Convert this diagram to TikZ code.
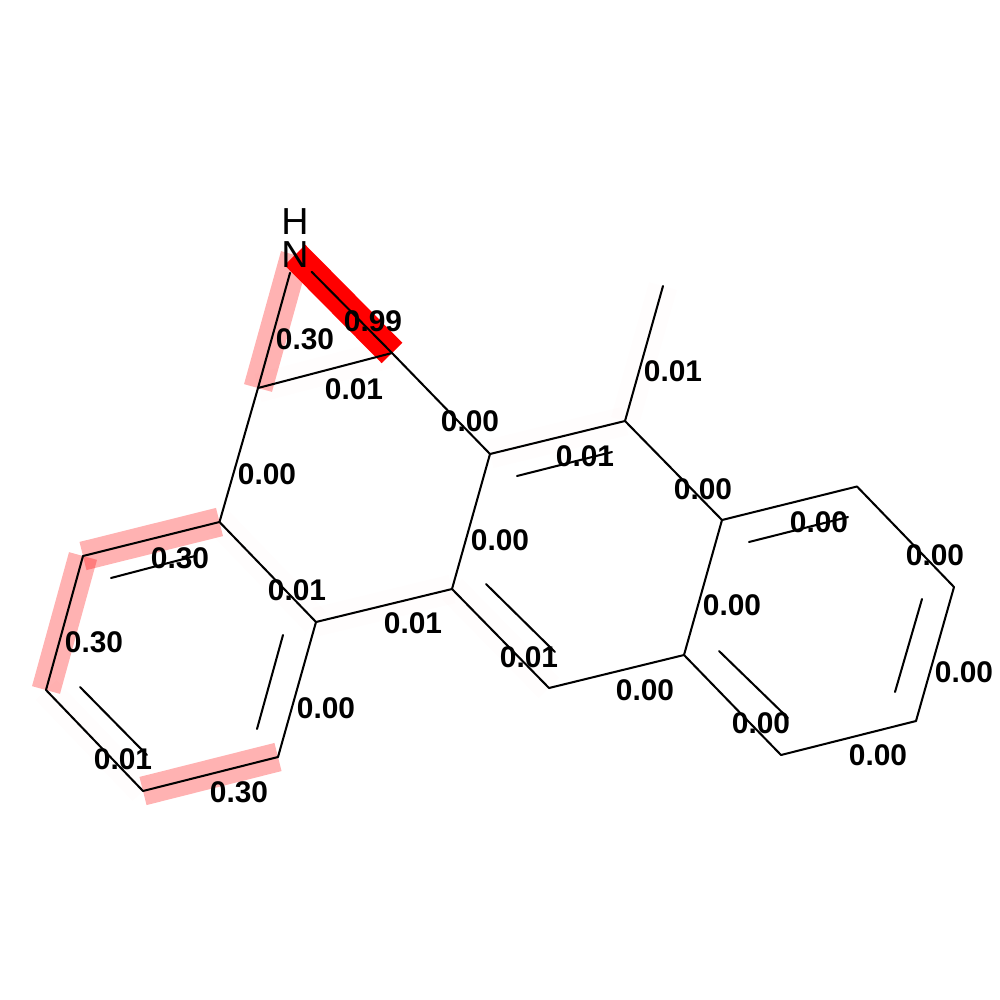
\documentclass[tikz,border=0pt]{standalone}
\usepackage{fontspec}
\setmainfont{Liberation Sans}
\tikzset{
  bond/.style={draw=black,line width=0.58pt,line cap=round},
  hl/.style={draw=red,line width=8.25pt,line cap=butt},
  hlA/.style={hl,draw opacity=1},
  hlB/.style={hl,draw opacity=0.3},
  hlC/.style={hl,draw opacity=0.008},
  val/.style={font=\fontsize{8.5}{10}\selectfont\bfseries,inner sep=0pt,text=black},
  atomlab/.style={font=\fontsize{10.7}{12}\selectfont,inner sep=0pt,text=black},
}
\begin{document}
\begin{tikzpicture}[x=0.01cm,y=-0.01cm]
\useasboundingbox (0,0) rectangle (1000,1000);
\fill[white] (0,0) rectangle (1000,1000);
% atoms
\coordinate (Nc) at (295,255);
\coordinate (a) at (258,388);
\coordinate (b) at (392,353);
\coordinate (c1) at (219.5,522);
\coordinate (c2) at (83,556);
\coordinate (c3) at (46,690);
\coordinate (c4) at (143,791);
\coordinate (c5) at (278,757);
\coordinate (c6) at (316,622);
\coordinate (d1) at (452,589);
\coordinate (d2) at (490,454);
\coordinate (d3) at (625,421);
\coordinate (d4) at (722,520);
\coordinate (d5) at (684,655);
\coordinate (d6) at (549,688);
\coordinate (me) at (663,286);
\coordinate (e1) at (857,486.5);
\coordinate (e2) at (954,587);
\coordinate (e3) at (916,721);
\coordinate (e4) at (781,755);
% inner line ends of the double bonds
\coordinate (i1a) at (111,578); \coordinate (i1b) at (195,556);
\coordinate (i2a) at (80,687);  \coordinate (i2b) at (147,755);
\coordinate (i3a) at (283,635); \coordinate (i3b) at (257,729);
\coordinate (i4a) at (517,476); \coordinate (i4b) at (612,452);
\coordinate (i5a) at (486,584); \coordinate (i5b) at (555,652);
\coordinate (i6a) at (749,542); \coordinate (i6b) at (848,517);
\coordinate (i7a) at (922,599); \coordinate (i7b) at (895,692);
\coordinate (i8a) at (719,651); \coordinate (i8b) at (788,718);
% faint highlights
\foreach \p/\q in {a/b,c6/c1,c3/c4,c6/d1,d1/d6,d2/d3,d3/me}
  \draw[hlC] (\p) -- (\q);
% strong highlights
\draw[hlB] (a) -- (Nc);
\draw[hlB] (c1) -- (c2);
\draw[hlB] (c2) -- (c3);
\draw[hlB] (c4) -- (c5);
\draw[hlA] (Nc) -- (b);
% atom labels
\node[atomlab,minimum width=9.1pt,minimum height=9.7pt] (N) at (Nc) {N};
\node[atomlab] (H) at (295,222) {H};
% bonds
\draw[bond] (N) -- (a);
\draw[bond] (N) -- (b);
\draw[bond] (a) -- (b);
\draw[bond] (a) -- (c1);
\draw[bond] (b) -- (d2);
\foreach \p/\q in {c1/c2,c2/c3,c3/c4,c4/c5,c5/c6,c6/c1,c6/d1,d1/d2,d2/d3,d3/d4,d4/d5,d5/d6,d6/d1,d3/me,d4/e1,e1/e2,e2/e3,e3/e4,e4/d5,i1a/i1b,i2a/i2b,i3a/i3b,i4a/i4b,i5a/i5b,i6a/i6b,i7a/i7b,i8a/i8b}
  \draw[bond] (\p) -- (\q);
% values
\node[val] (v01) at (373,321) {0.99};
\node[val] (v02) at (305,339) {0.30};
\node[val] (v03) at (354,389) {0.01};
\node[val] (v04) at (470,421) {0.00};
\node[val] (v05) at (673,371) {0.01};
\node[val] (v06) at (585,456) {0.01};
\node[val] (v07) at (703,489) {0.00};
\node[val] (v08) at (267,474) {0.00};
\node[val] (v09) at (500,540) {0.00};
\node[val] (v10) at (819,522) {0.00};
\node[val] (v11) at (935,555) {0.00};
\node[val] (v12) at (180,558) {0.30};
\node[val] (v13) at (297,590) {0.01};
\node[val] (v14) at (94,642) {0.30};
\node[val] (v15) at (413,623) {0.01};
\node[val] (v16) at (732,605) {0.00};
\node[val] (v17) at (529,657) {0.01};
\node[val] (v18) at (964,672) {0.00};
\node[val] (v19) at (326,708) {0.00};
\node[val] (v20) at (645,690) {0.00};
\node[val] (v21) at (761,723) {0.00};
\node[val] (v22) at (878,755) {0.00};
\node[val] (v23) at (123,759) {0.01};
\node[val] (v24) at (239,792) {0.30};
\end{tikzpicture}
\end{document}
